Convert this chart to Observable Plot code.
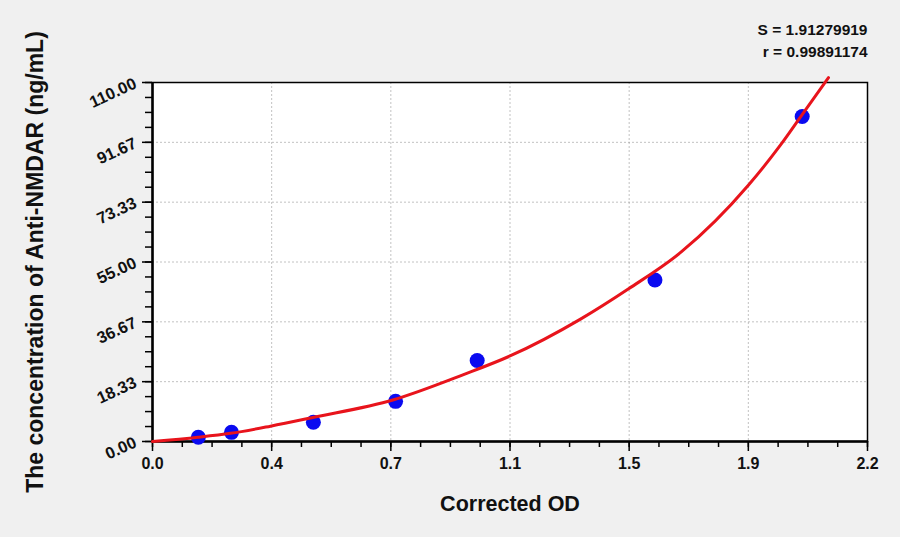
<!DOCTYPE html>
<html>
<head>
<meta charset="utf-8">
<script src="https://cdn.jsdelivr.net/npm/d3@7"></script>
<script src="https://cdn.jsdelivr.net/npm/@observablehq/plot@0.6"></script>
<style>
  html, body { margin: 0; padding: 0; background: #f0f0f0; }
  #chart svg { display: block; background: #f0f0f0; }
</style>
</head>
<body>
<div id="chart"></div>
<script>
// Measured standards
const odValues   = [0.141, 0.243, 0.495, 0.748, 0.999, 1.546, 1.999];
const concValues = [1.3, 2.8, 5.9, 12.3, 24.8, 49.5, 99.6];

// Fitted curve
const curveOD   = [0, 0.14, 0.24, 0.363, 0.49, 0.742, 0.957, 1.1, 1.317, 1.465, 1.626, 1.834, 1.932, 2.0, 2.08];
const curveConc = [0, 1.3, 2.5, 4.7, 7.3, 12.8, 20.5, 26.2, 37.5, 46.8, 58.0, 78.6, 90.8, 100.3, 111.5];

// Axis ticks
const xTickValues = [0, 0.36667, 0.73333, 1.1, 1.46667, 1.83333, 2.2];
const xTickLabels = ["0.0", "0.4", "0.7", "1.1", "1.5", "1.9", "2.2"];
const yTickValues = [0, 18.333, 36.667, 55, 73.333, 91.667, 110];
const yTickLabels = ["0.00", "18.33", "36.67", "55.00", "73.33", "91.67", "110.00"];

const statsLine1 = "S = 1.91279919";
const statsLine2 = "r = 0.99891174";
const xTitle = "Corrected OD";
const yTitle = "The concentration of Anti-NMDAR (ng/mL)";

const points = odValues.map((x, i) => ({x, y: concValues[i]}));
const curve = curveOD.map((x, i) => ({x, y: curveConc[i]}));
const xMinor = d3.range(25).map(i => i * 2.2 / 24);
const yMinor = d3.range(25).map(i => i * 110 / 24);

const font = "'Liberation Sans', Arial, sans-serif";

const plot = Plot.plot({
  width: 900,
  height: 537,
  marginLeft: 152,
  marginRight: 33,
  marginTop: 82,
  marginBottom: 96,
  style: {fontFamily: font, fontWeight: "bold", fontSize: "16px", color: "#111", background: "#f0f0f0"},
  x: {domain: [0, 2.2]},
  y: {domain: [0, 110]},
  marks: [
    Plot.frame({fill: "white", stroke: "none"}),
    Plot.gridX(xTickValues, {stroke: "#999", strokeOpacity: 0.6, strokeDasharray: "2,2"}),
    Plot.gridY(yTickValues, {stroke: "#999", strokeOpacity: 0.6, strokeDasharray: "2,2"}),
    Plot.axisX({ticks: xMinor, tickSize: 6, text: null, label: null, stroke: "black", strokeWidth: 1.5}),
    Plot.axisY({ticks: yMinor, tickSize: 7, text: null, label: null, stroke: "black", strokeWidth: 1.5}),
    Plot.axisX({ticks: xTickValues, tickSize: 10, tickPadding: 6, stroke: "black", strokeWidth: 1.5,
      tickFormat: (d, i) => xTickLabels[i], label: null, fontSize: 16, fill: "#111"}),
    Plot.axisY({ticks: yTickValues, tickSize: 10, tickPadding: 7, tickRotate: -25, stroke: "black", strokeWidth: 1.5,
      tickFormat: (d, i) => yTickLabels[i], label: null, fontSize: 16.5, fill: "#111"}),
    Plot.frame({stroke: "black", strokeWidth: 1.5}),
    Plot.ruleX([0], {stroke: "black", strokeWidth: 2.5}),
    Plot.ruleY([0], {stroke: "black", strokeWidth: 2.5}),
    Plot.dot(points, {x: "x", y: "y", r: 7.5, fill: "#0a0af0", stroke: "none"}),
    Plot.line(curve, {x: "x", y: "y", curve: "monotone-x", stroke: "#e8141c", strokeWidth: 3}),
    Plot.text([statsLine1], {frameAnchor: "top-right", dy: -52, textAnchor: "end", lineAnchor: "middle",
      fontSize: 15.5, fill: "#111", fontWeight: "bold"}),
    Plot.text([statsLine2], {frameAnchor: "top-right", dy: -30, textAnchor: "end", lineAnchor: "middle",
      fontSize: 15.5, fill: "#111", fontWeight: "bold"}),
    Plot.text([xTitle], {frameAnchor: "bottom", dy: 69, fontSize: 21.5, fill: "#111", fontWeight: "bold"}),
    Plot.text([yTitle], {frameAnchor: "left", dx: -117, rotate: -90, textAnchor: "middle",
      fontSize: 23, fill: "#111", fontWeight: "bold"})
  ]
});
document.getElementById("chart").appendChild(plot);
</script>
</body>
</html>
